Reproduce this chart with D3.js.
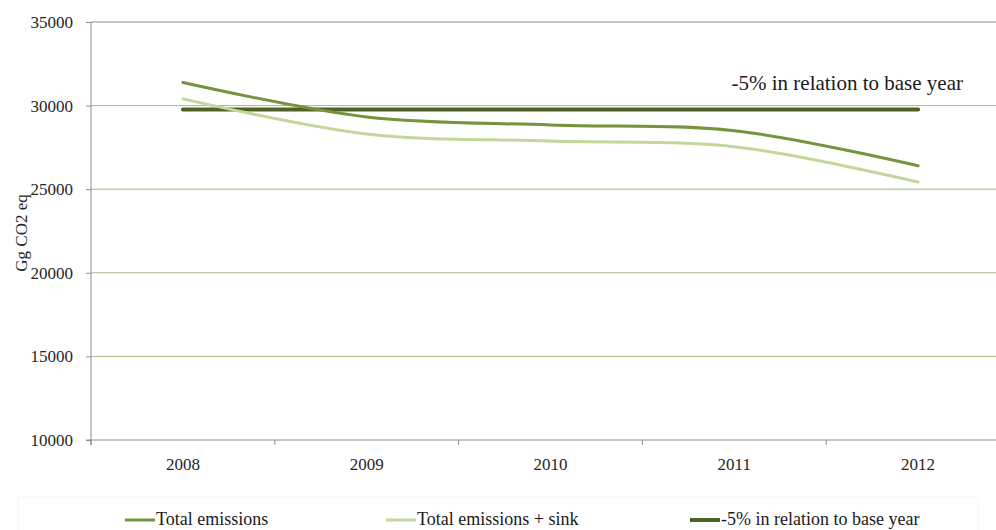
<!DOCTYPE html>
<html>
<head>
<meta charset="utf-8">
<script src="https://cdn.jsdelivr.net/npm/d3@7"></script>
<style>
  body { margin: 0; background: #fff; }
  svg { display: block; }
  svg text { font-family: "Liberation Serif", "DejaVu Serif", serif; }
</style>
</head>
<body>
<svg id="chart"></svg>
<script>
// Data
const years = ["2008", "2009", "2010", "2011", "2012"];
const totalEmissions = [31380, 29320, 28840, 28500, 26400];
const totalWithSink = [30400, 28300, 27880, 27540, 25430];
const target = [29770, 29770, 29770, 29770, 29770];
const yTicks = [10000, 15000, 20000, 25000, 30000, 35000];

const series = [
  { name: "Total emissions", values: totalEmissions, color: "#77933c", width: 3 },
  { name: "Total emissions + sink", values: totalWithSink, color: "#c3d69b", width: 3 },
  { name: "-5% in relation to base year", values: target, color: "#4f6228", width: 4, straight: true }
];

const width = 996;
const height = 530;

const svg = d3.select("#chart")
  .attr("width", width)
  .attr("height", height);

// Scales
const left = 91;
const step = 183.8;
const x = d3.scaleBand()
  .domain(years)
  .range([left, left + step * years.length])
  .padding(0);

const y = d3.scaleLinear()
  .domain([10000, 35000])
  .range([440, 22]);

const cx = d => x(d) + x.bandwidth() / 2;

// Gridlines
svg.append("g")
  .selectAll("line")
  .data(yTicks.filter(t => t > 10000))
  .join("line")
  .attr("x1", left)
  .attr("x2", width)
  .attr("y1", d => y(d))
  .attr("y2", d => y(d))
  .attr("stroke", d => d === 35000 ? "#8c8c8c" : "#a8b982")
  .attr("stroke-width", 1);

// Y axis
const yAxis = svg.append("g")
  .attr("transform", `translate(${left},0)`)
  .call(d3.axisLeft(y).tickValues(yTicks).tickSize(5).tickPadding(13).tickFormat(d3.format("d")))
  .attr("font-family", null);
yAxis.select(".domain").attr("stroke", "#8c8c8c").attr("d", `M0,${y(35000)}V${y(10000) + 5}`);
yAxis.selectAll(".tick line").attr("stroke", "#8c8c8c");
yAxis.selectAll(".tick text")
  .attr("font-size", 17)
  .attr("fill", "#262626");

// X axis
svg.append("line")
  .attr("x1", left - 5)
  .attr("x2", width)
  .attr("y1", y(10000))
  .attr("y2", y(10000))
  .attr("stroke", "#8c8c8c");

svg.append("g")
  .selectAll("line")
  .data(years)
  .join("line")
  .attr("x1", d => x(d))
  .attr("x2", d => x(d))
  .attr("y1", y(10000))
  .attr("y2", y(10000) + 5)
  .attr("stroke", "#8c8c8c");

svg.append("g")
  .selectAll("text")
  .data(years)
  .join("text")
  .attr("x", cx)
  .attr("y", 470)
  .attr("text-anchor", "middle")
  .attr("font-size", 17)
  .attr("fill", "#262626")
  .text(d => d);

// Y axis title
svg.append("text")
  .attr("transform", `translate(27,233) rotate(-90)`)
  .attr("text-anchor", "middle")
  .attr("font-size", 17)
  .attr("fill", "#262626")
  .text("Gg CO2 eq");

// Lines
const smooth = d3.line()
  .x((d, i) => cx(years[i]))
  .y(d => y(d))
  .curve(d3.curveCatmullRom.alpha(0.5));

const straight = d3.line()
  .x((d, i) => cx(years[i]))
  .y(d => y(d));

svg.append("g")
  .selectAll("path")
  .data([series[2], series[1], series[0]])
  .join("path")
  .attr("d", s => (s.straight ? straight : smooth)(s.values))
  .attr("fill", "none")
  .attr("stroke", s => s.color)
  .attr("stroke-width", s => s.width)
  .attr("stroke-linecap", "round");

// Annotation
svg.append("text")
  .attr("x", 963)
  .attr("y", 90)
  .attr("text-anchor", "end")
  .attr("font-size", 21)
  .attr("fill", "#1a1a1a")
  .text("-5% in relation to base year");

// Legend
svg.append("rect")
  .attr("x", 18)
  .attr("y", 497)
  .attr("width", 960)
  .attr("height", 60)
  .attr("fill", "none")
  .attr("stroke", "#f6f6f6");

const legendX = [125, 386, 690];
const legend = svg.append("g")
  .selectAll("g")
  .data(series)
  .join("g")
  .attr("transform", (d, i) => `translate(${legendX[i]},520)`);

legend.append("line")
  .attr("x1", 0)
  .attr("x2", 30)
  .attr("stroke", d => d.color)
  .attr("stroke-width", d => d.width);

legend.append("text")
  .attr("x", 31)
  .attr("y", 5)
  .attr("font-size", 18)
  .attr("fill", "#1a1a1a")
  .text(d => d.name);
</script>
</body>
</html>
